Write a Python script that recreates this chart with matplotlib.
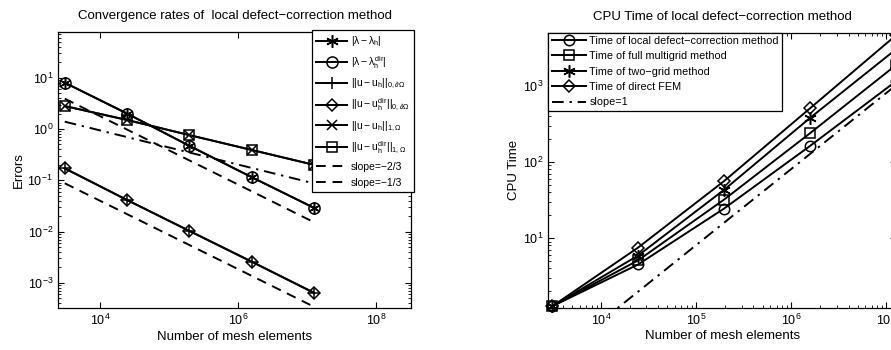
import matplotlib
matplotlib.use("Agg")
import matplotlib.pyplot as plt
from matplotlib.lines import Line2D
from matplotlib.ticker import LogLocator, FixedLocator, NullLocator, NullFormatter

plt.rcParams['font.family'] = ['Liberation Sans', 'DejaVu Sans']
plt.rcParams['mathtext.fontset'] = 'custom'
plt.rcParams['mathtext.rm'] = 'Liberation Sans'
plt.rcParams['mathtext.it'] = 'Liberation Sans'
plt.rcParams['mathtext.bf'] = 'Liberation Sans:bold'

# number of mesh elements (refined by a factor 8 each level)
n_elems = [3072, 24576, 196608, 1572864, 12582912]

# left panel: errors
err_lambda = [8.0, 2.0, 0.47, 0.115, 0.029]
err_lambda_dir = [8.0, 2.0, 0.47, 0.115, 0.029]
err_u0 = [0.171, 0.0413, 0.0103, 0.00259, 0.00064]
err_u0_dir = [0.171, 0.0413, 0.0103, 0.00259, 0.00064]
err_u1 = [2.8, 1.5, 0.76, 0.39, 0.2]
err_u1_dir = [2.8, 1.5, 0.76, 0.39, 0.2]
ref_23_upper = [3.9, 0.975, 0.244, 0.061, 0.0152]
ref_23_lower = [0.0875, 0.0219, 0.00547, 0.00137, 0.000342]
ref_13 = [1.39, 0.695, 0.348, 0.174, 0.087]

err_labels = [r'$|\lambda-\lambda_h|$', r'$|\lambda-\lambda_h^{dir}|$',
              r'$||u-u_h||_{0,\partial\Omega}$', r'$||u-u_h^{dir}||_{0,\partial\Omega}$',
              r'$||u-u_h||_{1,\Omega}$', r'$||u-u_h^{dir}||_{1,\Omega}$',
              'slope=\u22122/3', 'slope=\u22121/3']

# right panel: CPU time
t_ldc = [1.27, 4.5, 24.4, 162, 1146]
t_fmg = [1.27, 5.1, 32, 238, 1866]
t_tg = [1.27, 5.9, 43, 378, 3010]
t_fem = [1.27, 7.5, 56, 505, 4600]
ref_1 = [0.248, 1.98, 15.9, 127, 1015]

time_labels = ['Time of local defect\u2212correction method', 'Time of full multigrid method',
               'Time of two\u2212grid method', 'Time of direct FEM', 'slope=1']

star = (6, 2, 0)
dash = (0, (5, 3.5))
dashdot = (0, (6, 3, 1.2, 3))
lw = 1.4

fig = plt.figure(figsize=(8.91, 3.5), dpi=100)
ax1 = fig.add_axes([0.0651, 0.12, 0.3962, 0.7886])
ax2 = fig.add_axes([0.6154, 0.121, 0.3902, 0.786])

# ---- left: convergence rates
kw = dict(color='k', lw=lw, mfc='none', mew=1.1)
h = []
h += ax1.loglog(n_elems, err_lambda, marker=star, ms=9, **kw)
h += ax1.loglog(n_elems, err_lambda_dir, marker='o', ms=8, **kw)
h += ax1.loglog(n_elems, err_u0, marker='+', ms=9, **kw)
h += ax1.loglog(n_elems, err_u0_dir, marker='D', ms=6.5, **kw)
h += ax1.loglog(n_elems, err_u1, marker='x', ms=7, **kw)
h += ax1.loglog(n_elems, err_u1_dir, marker='s', ms=7, **kw)
h += ax1.loglog(n_elems, ref_23_upper, color='k', lw=lw, ls=dash)
ax1.loglog(n_elems, ref_13, color='k', lw=lw, ls=dashdot)
ax1.loglog(n_elems, ref_23_lower, color='k', lw=lw, ls=dash)
h.append(Line2D([], [], color='k', lw=lw, ls=dash))

ax1.set_xlim(2455, 3.2e8)
ax1.set_ylim(3.24e-4, 77.8)
ax1.xaxis.set_major_locator(FixedLocator([1e4, 1e6, 1e8]))
ax1.xaxis.set_minor_locator(NullLocator())
ax1.yaxis.set_major_locator(LogLocator(base=10, numticks=20))
ax1.yaxis.set_minor_locator(LogLocator(base=10, subs=range(2, 10), numticks=20))
ax1.yaxis.set_minor_formatter(NullFormatter())
ax1.set_title('Convergence rates of  local defect\u2212correction method', fontsize=9.5, pad=9)
ax1.set_xlabel('Number of mesh elements', fontsize=9.5, labelpad=2)
ax1.set_ylabel('Errors', fontsize=9.5, labelpad=2)
leg1 = ax1.legend(h, err_labels, loc='upper right', bbox_to_anchor=(0.4643, 0.914),
                  bbox_transform=fig.transFigure, borderaxespad=0, fontsize=7.5,
                  fancybox=False, framealpha=1, edgecolor='k', handlelength=2.9,
                  handletextpad=0.4, labelspacing=0.56, borderpad=0.4)
leg1.get_frame().set_linewidth(0.9)

# ---- right: CPU time
kw2 = dict(color='k', lw=lw, mfc='none', mew=1.1, clip_on=False)
h2 = []
h2 += ax2.loglog(n_elems, t_ldc, marker='o', ms=7.5, **kw2)
h2 += ax2.loglog(n_elems, t_fmg, marker='s', ms=7, **kw2)
h2 += ax2.loglog(n_elems, t_tg, marker=star, ms=9, **kw2)
h2 += ax2.loglog(n_elems, t_fem, marker='D', ms=6.5, **kw2)
h2 += ax2.loglog(n_elems, ref_1, color='k', lw=lw, ls=dashdot)

ax2.set_xlim(2800, 1.26e7)
ax2.set_ylim(1.22, 5000)
ax2.xaxis.set_major_locator(LogLocator(base=10, numticks=20))
ax2.xaxis.set_minor_locator(LogLocator(base=10, subs=range(2, 10), numticks=20))
ax2.xaxis.set_minor_formatter(NullFormatter())
ax2.yaxis.set_major_locator(LogLocator(base=10, numticks=20))
ax2.yaxis.set_minor_locator(LogLocator(base=10, subs=range(2, 10), numticks=20))
ax2.yaxis.set_minor_formatter(NullFormatter())
ax2.set_title('CPU Time of local defect\u2212correction method', fontsize=9.5, pad=9)
ax2.set_xlabel('Number of mesh elements', fontsize=9.5, labelpad=2)
ax2.set_ylabel('CPU Time', fontsize=9.5, labelpad=2)
leg2 = ax2.legend(h2, time_labels, loc='upper left', borderaxespad=0, fontsize=7.8,
                  fancybox=False, framealpha=1, edgecolor='k', handlelength=3.2,
                  handletextpad=0.3, labelspacing=0.5, borderpad=0.3)
leg2.get_frame().set_linewidth(0.9)

for ax in (ax1, ax2):
    ax.tick_params(which='both', direction='in', top=True, right=True, labelsize=9)
    ax.tick_params(which='major', length=4, width=0.8)
    ax.tick_params(which='minor', length=2, width=0.6)
    for s in ax.spines.values():
        s.set_linewidth(0.9)

fig.savefig('out.png', dpi=100)
